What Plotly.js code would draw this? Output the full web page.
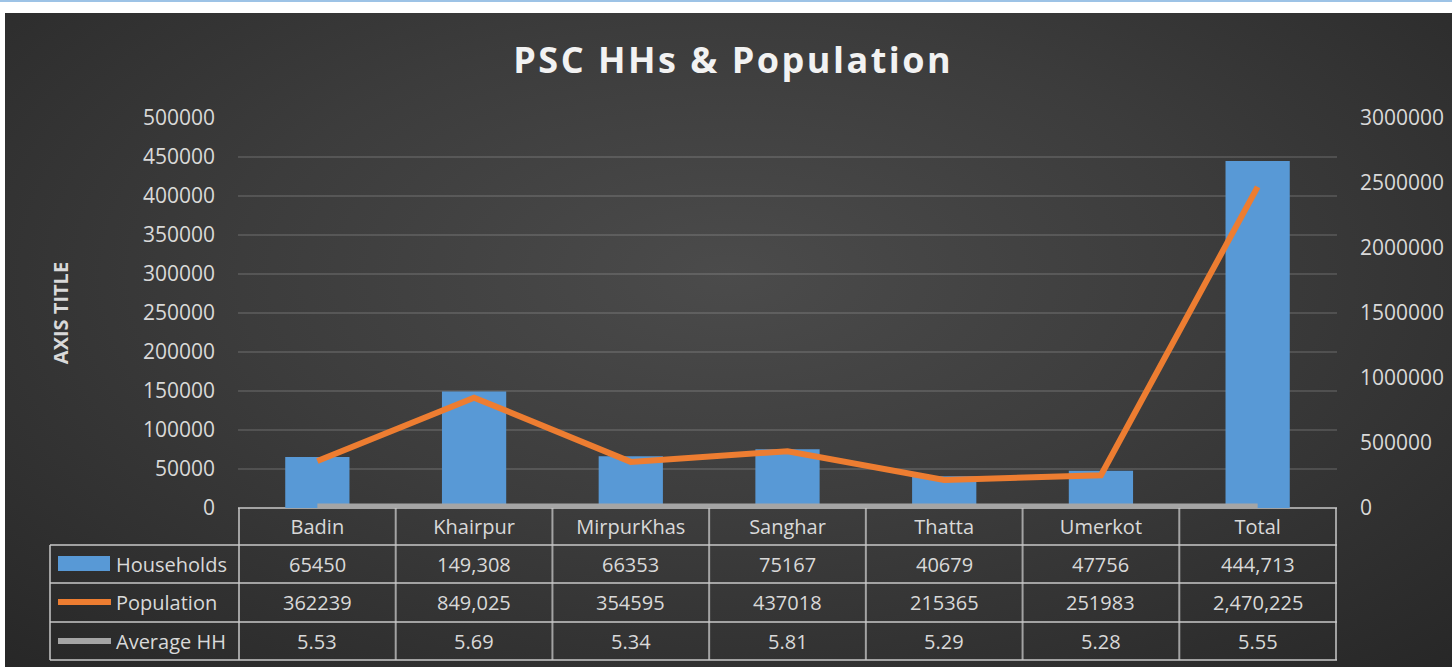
<!DOCTYPE html>
<html><head><meta charset="utf-8">
<script src="https://cdn.plot.ly/plotly-3.0.1.min.js"></script>
<style>
html,body{margin:0;padding:0;background:#fff;width:1452px;height:667px;overflow:hidden;}
#topline{position:absolute;left:0;top:0;width:1452px;height:2px;background:#9dc3e6;}
#bg{position:absolute;left:5px;top:13px;width:1447px;height:654px;
background:radial-gradient(ellipse 75% 85% at 50% 40%, #4b4b4b 0%, #3c3c3c 45%, #262626 100%);}
#chart{position:absolute;left:0;top:0;width:1452px;height:667px;}
#chart .gtitle{letter-spacing:2.5px;}
</style></head><body>
<div id="topline"></div><div id="bg"></div><div id="chart"></div>
<script>
const categories = ["Badin","Khairpur","MirpurKhas","Sanghar","Thatta","Umerkot","Total"];
const households = [65450,149308,66353,75167,40679,47756,444713];
const population = [362239,849025,354595,437018,215365,251983,2470225];
const averageHH = [5.53,5.69,5.34,5.81,5.29,5.28,5.55];
const hhText = ["65450","149,308","66353","75167","40679","47756","444,713"];
const popText = ["362239","849,025","354595","437018","215365","251983","2,470,225"];
const avgText = ["5.53","5.69","5.34","5.81","5.29","5.28","5.55"];
const seriesNames = ["Households","Population","Average HH"];
const yTicks = [0,50000,100000,150000,200000,250000,300000,350000,400000,450000,500000];
const y2Ticks = [0,500000,1000000,1500000,2000000,2500000,3000000];

const txtCol = "#d9d9d9";
const gridCol = "rgba(255,255,255,0.13)";
const tblCol = "rgba(200,200,200,0.75)";
const font = "Open Sans, DejaVu Sans, sans-serif";

const traces = [
  {type:"bar", x:categories, y:households, name:seriesNames[0], width:0.41,
   marker:{color:"#5899d6", line:{width:0}}, hoverinfo:"x+y"},
  {type:"scatter", mode:"lines", x:categories, y:averageHH, name:seriesNames[2], yaxis:"y2",
   line:{color:"#a5a5a5", width:9}, hoverinfo:"x+y"},
  {type:"scatter", mode:"lines", x:categories, y:population, name:seriesNames[1], yaxis:"y2",
   line:{color:"#ed7d31", width:6}, hoverinfo:"x+y"}
];

const H = 390, W = 1099;
const py = px => -px / H;
const pxX = px => (px - 238) / W;
const rowLines = [37, 75, 114, 152];
const rowCenters = [56, 94, 133];
const shapes = [];
const annotations = [];
for (let i = 0; i <= categories.length; i++) {
  shapes.push({type:"line", xref:"x", yref:"paper", x0:i-0.5, x1:i-0.5, y0:0, y1:py(152),
    line:{color:tblCol, width:2}, layer:"below"});
}
shapes.push({type:"line", xref:"paper", yref:"paper", x0:pxX(50), x1:pxX(50), y0:py(37), y1:py(152),
  line:{color:tblCol, width:2}});
shapes.push({type:"line", xref:"paper", yref:"paper", x0:0, x1:1, y0:0, y1:0, line:{color:tblCol, width:2}, layer:"below"});
rowLines.forEach(r => shapes.push({type:"line", xref:"paper", yref:"paper", x0:pxX(50), x1:1, y0:py(r), y1:py(r),
  line:{color:tblCol, width:2}}));
shapes.push({type:"rect", xref:"paper", yref:"paper", x0:pxX(58), x1:pxX(110), y0:py(48), y1:py(63),
  fillcolor:"#5899d6", line:{width:0}});
shapes.push({type:"line", xref:"paper", yref:"paper", x0:pxX(58), x1:pxX(111), y0:py(94), y1:py(94),
  line:{color:"#ed7d31", width:6}});
shapes.push({type:"line", xref:"paper", yref:"paper", x0:pxX(58), x1:pxX(111), y0:py(133), y1:py(133),
  line:{color:"#a5a5a5", width:6}});
seriesNames.forEach((n, r) => annotations.push({xref:"paper", yref:"paper", x:pxX(114), y:py(rowCenters[r]),
  xanchor:"left", yanchor:"middle", text:n, showarrow:false, font:{family:font, size:20, color:txtCol}}));
[hhText, popText, avgText].forEach((arr, r) => arr.forEach((t, i) => annotations.push({
  xref:"x", yref:"paper", x:categories[i], y:py(rowCenters[r]), xanchor:"center", yanchor:"middle",
  text:t, showarrow:false, font:{family:font, size:20, color:txtCol}})));

const layout = {
  width:1452, height:667,
  paper_bgcolor:"rgba(0,0,0,0)", plot_bgcolor:"rgba(0,0,0,0)",
  margin:{l:238, r:115, t:118, b:159},
  showlegend:false,
  title:{text:"<b>PSC HHs & Population</b>", x:0.505, xanchor:"center", y:0.91, yanchor:"middle",
    font:{family:font, size:36, color:"#f2f2f2"}},
  xaxis:{type:"category", showgrid:false, zeroline:false, showline:false, ticks:"",
    tickfont:{family:font, size:20, color:txtCol}, ticklabelstandoff:5, fixedrange:true},
  yaxis:{range:[0,500000], tickvals:yTicks, tickformat:"d", showgrid:true, gridcolor:gridCol, gridwidth:1.5,
    zeroline:false, showline:false, ticks:"", tickfont:{family:font, size:21, color:txtCol},
    ticklabelstandoff:22,
    title:{text:"<b>AXIS TITLE</b>", standoff:68, font:{family:font, size:20, color:txtCol}}},
  yaxis2:{range:[0,3000000], tickvals:y2Ticks, tickformat:"d", overlaying:"y", side:"right",
    showgrid:false, zeroline:false, showline:false, ticks:"", tickfont:{family:font, size:21, color:txtCol},
    ticklabelstandoff:22},
  shapes:shapes, annotations:annotations
};
Plotly.newPlot("chart", traces, layout, {displayModeBar:false});
</script></body></html>
